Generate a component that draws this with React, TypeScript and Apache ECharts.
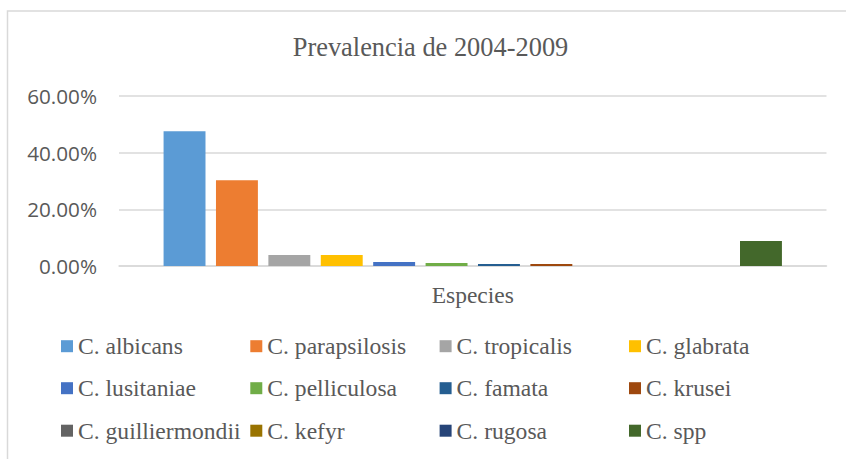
import React, { useEffect, useRef } from "react";
import * as echarts from "echarts";

const categories = ["Especies"];
const seriesNames = [
  "C. albicans",
  "C. parapsilosis",
  "C. tropicalis",
  "C. glabrata",
  "C. lusitaniae",
  "C. pelliculosa",
  "C. famata",
  "C. krusei",
  "C. guilliermondii",
  "C. kefyr",
  "C. rugosa",
  "C. spp",
];
const seriesValues = [47.6, 30.3, 3.9, 3.9, 1.4, 1.1, 0.7, 0.7, 0, 0, 0, 8.8];
const seriesColors = [
  "#5B9BD5",
  "#ED7D31",
  "#A5A5A5",
  "#FFC000",
  "#4472C4",
  "#70AD47",
  "#255E91",
  "#9E480E",
  "#636363",
  "#997300",
  "#264478",
  "#43682B",
];
const yTicks = { min: 0, max: 60, interval: 20 };
const titleText = "Prevalencia de 2004-2009";

const SERIF = "'Liberation Serif', 'Times New Roman', serif";
const SANS = "'Open Sans', sans-serif";
const GREY = "#595959";
const LINE = "#d9d9d9";

export default function App() {
  const ref = useRef<HTMLDivElement>(null);
  useEffect(() => {
    if (!ref.current) return;
    const chart = echarts.init(ref.current, null, { renderer: "svg" });
    const legendFont = 23.6;
    const colX = [61, 250.3, 439.6, 629];
    const rowY = [346, 388, 430.5];
    const option: any = {
      animation: false,
      backgroundColor: "#ffffff",
      graphic: [
        {
          type: "rect",
          shape: { x: 7.5, y: 11, width: 900, height: 500 },
          style: { fill: "none", stroke: LINE, lineWidth: 1.5 },
          silent: true,
        },
        {
          type: "text",
          x: 430.5,
          y: 46.8,
          style: {
            text: titleText,
            fontFamily: SERIF,
            fontSize: 26.4,
            fill: GREY,
            align: "center",
            verticalAlign: "middle",
          },
        },
      ],
      grid: { left: 119, right: 19.5, top: 96, bottom: 193, containLabel: false },
      xAxis: {
        type: "category",
        data: categories,
        axisTick: { show: false },
        axisLine: { show: true, lineStyle: { color: LINE, width: 1.5 } },
        axisLabel: {
          margin: 16.5,
          fontFamily: SERIF,
          fontSize: 23.5,
          color: GREY,
        },
      },
      yAxis: {
        type: "value",
        min: yTicks.min,
        max: yTicks.max,
        interval: yTicks.interval,
        axisLine: { show: false },
        axisTick: { show: false },
        splitLine: { lineStyle: { color: LINE, width: 1.5 } },
        axisLabel: {
          margin: 22,
          fontFamily: SANS,
          fontSize: 20.7,
          color: GREY,
          padding: [0, 0, 5, 0],
          formatter: (v: number) => v.toFixed(2) + "%",
        },
      },
      legend: seriesNames.map((n, i) => ({
        data: [n],
        left: colX[i % 4],
        top: rowY[Math.floor(i / 4)] - legendFont / 2,
        padding: 0,
        itemGap: 0,
        itemWidth: 12,
        itemHeight: 12,
        icon: "rect",
        selectedMode: false,
        textStyle: { fontFamily: SERIF, fontSize: legendFont, color: GREY },
      })),
      series: seriesNames.map((n, i) => ({
        name: n,
        type: "bar",
        data: [seriesValues[i]],
        itemStyle: { color: seriesColors[i] },
        barGap: "25%",
        barCategoryGap: "12.6%",
      })),
    };
    chart.setOption(option);
    return () => chart.dispose();
  }, []);
  return (
    <div
      ref={ref}
      style={{ position: "absolute", left: 0, top: 0, width: 846, height: 459 }}
    />
  );
}
